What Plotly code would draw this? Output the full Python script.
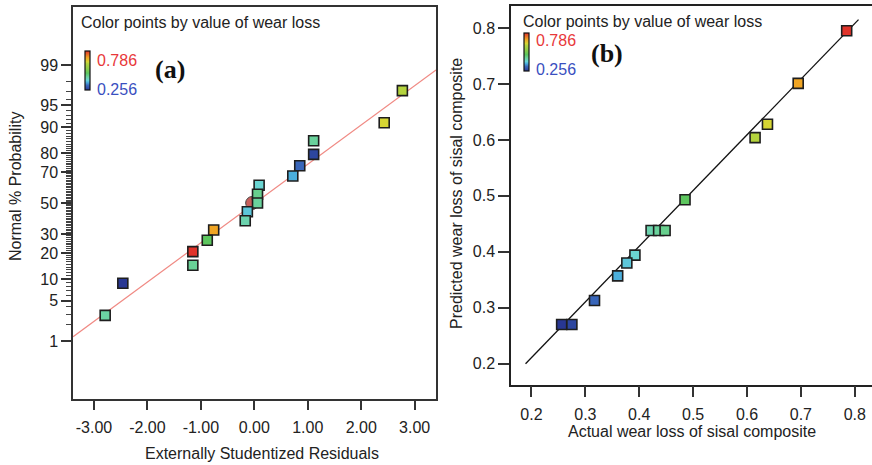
from statistics import NormalDist
import plotly.graph_objects as go

# ---------------- data ----------------
# (a) normal probability plot
resid = [2.77, 2.43, 1.11, 1.11, 0.85, 0.72, 0.09, 0.06, 0.06, -0.13, -0.17,
         -0.76, -0.88, -1.15, -1.15, -2.46, -2.79]
prob_pct = [97.1, 91.2, 85.3, 79.4, 73.5, 67.6, 61.8, 55.9, 50.0, 44.1, 38.2,
            32.4, 26.5, 20.6, 14.7, 8.8, 2.9]
wear_a = [0.615, 0.638, 0.436, 0.275, 0.317, 0.360, 0.392, 0.448, 0.436, 0.377,
          0.422, 0.695, 0.485, 0.785, 0.440, 0.256, 0.430]
circle_resid = [-0.04]
circle_pct = [50.0]
line_a_x = [-3.39, 3.40]
line_a_pct = [1.21, 98.76]
prob_ticks = [1, 5, 10, 20, 30, 50, 70, 80, 90, 95, 99]

# (b) predicted vs actual
actual = [0.785, 0.695, 0.638, 0.615, 0.485, 0.422, 0.436, 0.448, 0.392, 0.377,
          0.360, 0.317, 0.256, 0.275]
predicted = [0.795, 0.701, 0.628, 0.604, 0.493, 0.438, 0.438, 0.438, 0.394, 0.380,
             0.357, 0.313, 0.270, 0.270]
line_b_x = [0.189, 0.807]
line_b_y = [0.200, 0.815]
b_ticks = [0.2, 0.3, 0.4, 0.5, 0.6, 0.7, 0.8]
a_xticks = [-3, -2, -1, 0, 1, 2, 3]

wear_min, wear_max = 0.256, 0.786

# ---------------- helpers ----------------
nd = NormalDist()
z = lambda p: nd.inv_cdf(p / 100.0)

W, H = 872, 465
px = lambda x: x / W
py = lambda y: 1 - y / H

cscale = [
    [0.0, '#283793'], [0.12, '#3a68bc'], [0.2, '#4cb2de'], [0.25, '#6ad5d6'],
    [0.33, '#6cd3a3'], [0.43, '#5cc65e'], [0.55, '#8ccc48'], [0.68, '#b5d33d'],
    [0.72, '#d6d634'], [0.83, '#f0a424'], [1.0, '#e0322a'],
]
FONT = 'Liberation Sans, Arial, sans-serif'
AX = '#333333'

fig = go.Figure()

# ---- panel (a) ----
fig.add_trace(go.Scatter(
    x=line_a_x, y=[z(p) for p in line_a_pct], mode='lines',
    line=dict(color='#f08a84', width=1.2), xaxis='x', yaxis='y',
    showlegend=False, hoverinfo='skip'))
fig.add_trace(go.Scatter(
    x=circle_resid, y=[z(p) for p in circle_pct], mode='markers',
    marker=dict(symbol='circle', size=13, color='#c8605c',
                line=dict(color='#444', width=1)),
    xaxis='x', yaxis='y', showlegend=False))
fig.add_trace(go.Scatter(
    x=resid, y=[z(p) for p in prob_pct], mode='markers',
    marker=dict(symbol='square', size=10, color=wear_a, colorscale=cscale,
                cmin=wear_min, cmax=wear_max,
                line=dict(color='#1e1e1e', width=1.6),
                showscale=True,
                colorbar=dict(x=px(85), xanchor='left', y=py(51), yanchor='top',
                              thickness=5, thicknessmode='pixels',
                              len=39, lenmode='pixels', xpad=0, ypad=0,
                              outlinecolor='#111', outlinewidth=1.2,
                              showticklabels=False, ticks='')),
    xaxis='x', yaxis='y', showlegend=False))

# ---- panel (b) ----
fig.add_trace(go.Scatter(
    x=line_b_x, y=line_b_y, mode='lines', line=dict(color='#111', width=1.3),
    xaxis='x2', yaxis='y2', showlegend=False, hoverinfo='skip'))
fig.add_trace(go.Scatter(
    x=actual, y=predicted, mode='markers',
    marker=dict(symbol='square', size=10, color=actual, colorscale=cscale,
                cmin=wear_min, cmax=wear_max,
                line=dict(color='#1e1e1e', width=1.6),
                showscale=True,
                colorbar=dict(x=px(524), xanchor='left', y=py(33), yanchor='top',
                              thickness=5, thicknessmode='pixels',
                              len=38, lenmode='pixels', xpad=0, ypad=0,
                              outlinecolor='#111', outlinewidth=1.2,
                              showticklabels=False, ticks='')),
    xaxis='x2', yaxis='y2', showlegend=False))

tickfont = dict(family=FONT, size=16, color='#222')
minor_pct = [p for p in range(2, 99) if p not in prob_ticks]

fig.update_layout(
    width=W, height=H, margin=dict(l=0, r=0, t=0, b=0),
    paper_bgcolor='white', plot_bgcolor='white',
    font=dict(family=FONT, size=16, color='#222'),
    xaxis=dict(domain=[px(73), px(436)], range=[-3.392, 3.399],
               tickvals=a_xticks, ticktext=['%.2f' % v for v in a_xticks],
               ticks='outside', ticklen=9, tickwidth=1.5, tickcolor=AX,
               ticklabelstandoff=4,
               showline=True, linecolor=AX, linewidth=1.5, mirror=True,
               showgrid=False, zeroline=False, tickfont=tickfont),
    yaxis=dict(domain=[py(399), py(7)], range=[-3.305, 3.305],
               tickvals=[z(p) for p in prob_ticks], ticktext=[str(p) for p in prob_ticks],
               ticks='outside', ticklen=10, tickwidth=1.5, tickcolor=AX,
               minor=dict(tickvals=[z(p) for p in minor_pct], ticks='outside',
                          ticklen=5, tickwidth=1, tickcolor='#444'),
               showline=True, linecolor=AX, linewidth=1.5, mirror=True,
               showgrid=False, zeroline=False, tickfont=tickfont),
    xaxis2=dict(domain=[px(511), 1.0], range=[0.162, 0.832],
                tickvals=b_ticks, ticktext=[str(v) for v in b_ticks],
                ticks='outside', ticklen=11, tickwidth=1.5, tickcolor=AX,
                ticklabelstandoff=3, anchor='y2',
                showline=True, linecolor='#222', linewidth=1.5, mirror=True,
                showgrid=False, zeroline=False, tickfont=tickfont),
    yaxis2=dict(domain=[py(384.7), py(6)], range=[0.1625, 0.8393],
                tickvals=b_ticks, ticktext=[str(v) for v in b_ticks],
                ticks='outside', ticklen=11, tickwidth=1.5, tickcolor=AX,
                anchor='x2',
                showline=True, linecolor='#222', linewidth=1.5, mirror=False,
                showgrid=False, zeroline=False, tickfont=tickfont),
)

ann = []
def text(x, y, s, size=16, color='#222', xanchor='center', yanchor='middle',
         angle=0, family=FONT):
    ann.append(dict(x=px(x), y=py(y), xref='paper', yref='paper', text=s,
                    showarrow=False, xanchor=xanchor, yanchor=yanchor,
                    textangle=angle, font=dict(family=family, size=size, color=color)))

text(79, 22, 'Color points by value of wear loss', xanchor='left')
text(521, 21, 'Color points by value of wear loss', xanchor='left')
text(95, 60, '0.786', color='#e8383a', xanchor='left')
text(95, 89, '0.256', color='#3a4fc0', xanchor='left')
text(534, 41, '0.786', color='#e8383a', xanchor='left')
text(534, 70, '0.256', color='#3a4fc0', xanchor='left')
text(170, 69, '<b>(a)</b>', size=26, color='#111',
     family='Liberation Serif, Times New Roman, serif')
text(607, 54, '<b>(b)</b>', size=26, color='#111',
     family='Liberation Serif, Times New Roman, serif')
text(262, 453, 'Externally Studentized Residuals')
text(692, 431, 'Actual wear loss of sisal composite')
text(16, 187, 'Normal % Probability', angle=-90)
text(456, 194, 'Predicted wear loss of sisal composite', angle=-90)
fig.update_layout(annotations=ann)

fig.write_html('out.html')
